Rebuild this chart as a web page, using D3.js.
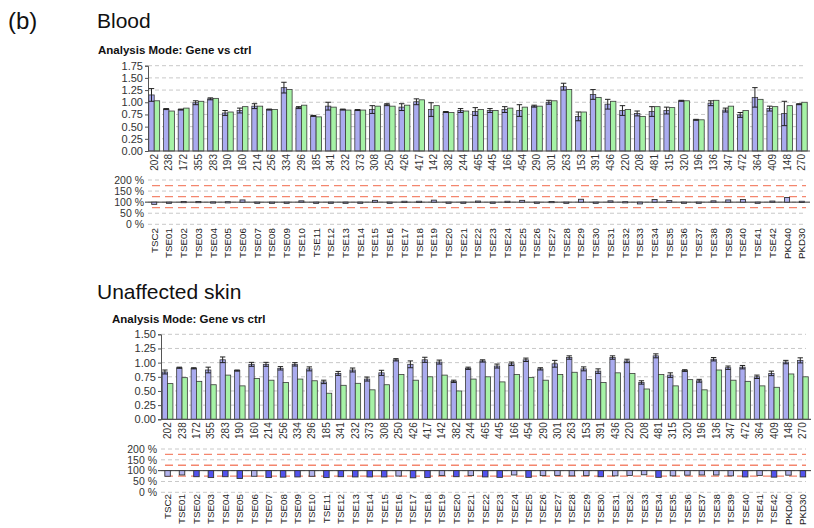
<!DOCTYPE html>
<html>
<head>
<meta charset="utf-8">
<script src="https://cdn.jsdelivr.net/npm/d3@7/dist/d3.min.js"></script>
<style>
  html, body { margin: 0; padding: 0; background: #fff; }
  svg { display: block; }
  text { font-family: "Liberation Sans", Arial, sans-serif; }
</style>
</head>
<body>
<svg id="chart" width="814" height="528"></svg>
<script>
// Gene IDs shown under each bar pair
const geneIds = ["202","238","172","355","283","190","160","214","256","334","296","185","341","232","373",
  "308","250","426","417","142","382","244","465","445","166","454","290","301","263","153",
  "391","436","220","208","481","315","320","196","136","347","472","364","409","148","270"];

// Sample names shown under the percentage strip
const sampleNames = ["TSC2","TSE01","TSE02","TSE03","TSE04","TSE05","TSE06","TSE07","TSE08","TSE09",
  "TSE10","TSE11","TSE12","TSE13","TSE14","TSE15","TSE16","TSE17","TSE18","TSE19","TSE20","TSE21",
  "TSE22","TSE23","TSE24","TSE25","TSE26","TSE27","TSE28","TSE29","TSE30","TSE31","TSE32","TSE33",
  "TSE34","TSE35","TSE36","TSE37","TSE38","TSE39","TSE40","TSE41","TSE42","PKD40","PKD30"];

// Blood: relative expression (blue = gene, green = ctrl), error half-widths, ratio %
const bloodBlue = [1.15,0.86,0.85,0.99,1.07,0.78,0.83,0.92,0.85,1.30,0.89,0.72,0.92,0.85,0.84,
  0.85,0.95,0.90,1.01,0.85,0.80,0.83,0.81,0.83,0.85,0.83,0.92,1.00,1.32,0.71,
  1.16,0.96,0.83,0.77,0.81,0.83,1.03,0.64,0.98,0.84,0.74,1.10,0.87,0.77,0.96];
const bloodBlueErr = [0.13,0.01,0.01,0.04,0.02,0.05,0.05,0.05,0.01,0.11,0.02,0.01,0.08,0.01,0.01,
  0.08,0.02,0.07,0.06,0.14,0.01,0.04,0.08,0.04,0.06,0.12,0.02,0.04,0.07,0.09,
  0.10,0.10,0.10,0.05,0.10,0.07,0.01,0.01,0.05,0.04,0.05,0.20,0.05,0.25,0.01];
const bloodGreen = [1.03,0.82,0.88,1.02,1.08,0.80,0.91,0.92,0.85,1.26,0.94,0.70,0.90,0.84,0.84,
  0.92,0.92,0.94,1.05,0.93,0.79,0.82,0.85,0.83,0.88,0.90,0.92,1.03,1.26,0.80,
  1.10,1.02,0.85,0.71,0.91,0.89,1.03,0.64,1.04,0.92,0.83,1.06,0.91,0.93,1.00];
const bloodRatio = [90,95,103,103,101,102,110,100,100,97,106,97,98,99,100,
  108,97,104,104,109,99,99,105,100,104,108,100,103,95,113,
  95,106,102,92,112,107,100,100,106,110,112,96,105,121,104];
const bloodStrong = new Array(45).fill(false);

// Unaffected skin
const skinBlue = [0.835,0.91,0.90,0.87,1.05,0.86,0.97,0.97,0.90,0.97,0.89,0.66,0.81,0.87,0.71,
  0.82,1.05,0.97,1.05,1.01,0.67,0.90,1.03,0.94,0.98,1.05,0.89,0.98,1.09,0.89,
  0.85,1.09,1.03,0.65,1.12,0.78,0.86,0.68,1.06,0.91,0.92,0.75,0.81,1.01,1.04];
const skinBlueErr = [0.035,0.01,0.01,0.05,0.05,0.01,0.035,0.035,0.03,0.03,0.035,0.03,0.035,0.035,0.035,
  0.045,0.02,0.06,0.045,0.035,0.02,0.02,0.02,0.035,0.03,0.03,0.02,0.06,0.03,0.035,
  0.04,0.03,0.03,0.03,0.035,0.04,0.015,0.025,0.03,0.03,0.03,0.03,0.04,0.03,0.045];
const skinGreen = [0.63,0.735,0.67,0.61,0.78,0.59,0.72,0.69,0.65,0.71,0.68,0.46,0.60,0.635,0.52,
  0.61,0.79,0.69,0.75,0.78,0.50,0.71,0.75,0.66,0.79,0.74,0.69,0.79,0.83,0.70,
  0.65,0.82,0.81,0.535,0.79,0.59,0.70,0.52,0.87,0.69,0.67,0.59,0.565,0.80,0.75];
const skinRatio = [74,80,72,68,72,64,74,68,70,71,74,68,72,71,71,
  71,75,67,68,78,72,77,71,69,80,69,77,78,76,77,
  72,76,78,81,69,76,79,80,80,76,71,78,70,79,71];
const skinStrong = [false,false,true,true,true,true,false,true,true,true,false,true,true,true,true,
  true,false,true,true,false,true,false,true,true,false,true,false,false,false,false,
  true,false,false,false,true,false,false,false,false,false,true,false,true,false,true];

const mainTicksBlood = [0,0.25,0.5,0.75,1.0,1.25,1.5,1.75];
const mainTicksSkin = [0,0.25,0.5,0.75,1.0,1.25,1.5];
const pctTicks = [0,50,100,150,200];
const pctLimits = [75,125,175];

const svg = d3.select("#chart");
const C = {
  blue: "#aaabef", green: "#a6f2a6", edge: "#3a3a3a",
  grid: "#c8c8c8", limit: "#f4866e", text: "#333",
  strong: "#5252ee", weak: "#b3b3ee"
};

// headings
svg.append("text").attr("x", 8).attr("y", 29).attr("font-family", "Open Sans").attr("font-size", 24)
  .attr("fill", "#111").text("(b)");
svg.append("text").attr("x", 97).attr("y", 28).attr("font-family", "Open Sans").attr("font-size", 21)
  .attr("fill", "#111").text("Blood");
svg.append("text").attr("x", 97).attr("y", 299).attr("font-family", "Open Sans").attr("font-size", 21)
  .attr("fill", "#111").text("Unaffected skin");

function drawPanel(cfg) {
  const g = svg.append("g");
  const n = geneIds.length;
  g.append("text").attr("x", cfg.titleX).attr("y", cfg.titleY).attr("font-size", 11.5)
    .attr("font-weight", "bold").attr("fill", "#111").text("Analysis Mode: Gene vs ctrl");

  const x = d3.scaleBand().domain(d3.range(n)).range(cfg.xRange).paddingInner(0.26).paddingOuter(0.12);
  const sub = d3.scaleBand().domain([0, 1]).range([0, x.bandwidth()]);
  const y = d3.scaleLinear().domain([0, cfg.yMax]).range(cfg.mainY);
  const gridR = cfg.gridRight;

  // main grid
  g.append("g").selectAll("line").data(cfg.mainTicks.filter(t => t > 0)).join("line")
    .attr("x1", cfg.axisX).attr("x2", gridR).attr("y1", d => y(d)).attr("y2", d => y(d))
    .attr("stroke", C.grid).attr("stroke-width", 1).attr("stroke-dasharray", "4,3");

  // y axis
  const ya = g.append("g").attr("transform", `translate(${cfg.axisX},0)`)
    .call(d3.axisLeft(y).tickValues(cfg.mainTicks).tickSize(3).tickPadding(2).tickFormat(d3.format(".2f")));
  ya.select(".domain").attr("stroke", "#555");
  ya.selectAll(".tick line").attr("stroke", "#555");
  ya.selectAll("text").attr("font-size", 11).attr("fill", C.text).attr("font-family", "Liberation Sans, Arial");

  // bars
  const bars = g.append("g");
  bars.selectAll("rect.b").data(d3.range(n)).join("rect").attr("class", "b")
    .attr("x", i => x(i) + sub(0)).attr("width", sub.bandwidth())
    .attr("y", i => y(cfg.blue[i])).attr("height", i => y(0) - y(cfg.blue[i]))
    .attr("fill", C.blue).attr("stroke", C.edge).attr("stroke-width", 0.8);
  bars.selectAll("rect.g").data(d3.range(n)).join("rect").attr("class", "g")
    .attr("x", i => x(i) + sub(1)).attr("width", sub.bandwidth())
    .attr("y", i => y(cfg.green[i])).attr("height", i => y(0) - y(cfg.green[i]))
    .attr("fill", C.green).attr("stroke", C.edge).attr("stroke-width", 0.8);

  // error bars on the gene bars
  const eb = g.append("g").attr("stroke", "#222").attr("stroke-width", 1);
  d3.range(n).forEach(i => {
    const cx = x(i) + sub(0) + sub.bandwidth() / 2;
    const hi = y(cfg.blue[i] + cfg.err[i]), lo = y(cfg.blue[i] - cfg.err[i]);
    const w = sub.bandwidth() / 2;
    eb.append("line").attr("x1", cx).attr("x2", cx).attr("y1", hi).attr("y2", lo);
    eb.append("line").attr("x1", cx - w).attr("x2", cx + w).attr("y1", hi).attr("y2", hi);
    eb.append("line").attr("x1", cx - w).attr("x2", cx + w).attr("y1", lo).attr("y2", lo);
  });

  // x axis line
  g.append("line").attr("x1", cfg.axisX).attr("x2", cfg.xRange[1] + 1).attr("y1", y(0)).attr("y2", y(0))
    .attr("stroke", "#555").attr("stroke-width", 1.2);

  // gene id labels
  g.append("g").selectAll("text").data(d3.range(n)).join("text")
    .attr("transform", i => `translate(${x(i) + x.bandwidth() / 2},${y(0) + 3}) rotate(-90)`)
    .attr("text-anchor", "end").attr("dy", "0.35em").attr("font-size", 10).attr("fill", C.text)
    .text(i => geneIds[i]);

  // percentage strip
  const p = d3.scaleLinear().domain([0, 200]).range(cfg.pctY);
  g.append("g").selectAll("line").data(pctTicks).join("line")
    .attr("x1", cfg.axisX).attr("x2", gridR).attr("y1", d => p(d)).attr("y2", d => p(d))
    .attr("stroke", C.grid).attr("stroke-width", 1).attr("stroke-dasharray", "4,3");
  g.append("g").selectAll("line").data(pctLimits).join("line")
    .attr("x1", cfg.axisX + 4).attr("x2", gridR).attr("y1", d => p(d)).attr("y2", d => p(d))
    .attr("stroke", C.limit).attr("stroke-width", 1.3).attr("stroke-dasharray", "8,5");
  g.append("line").attr("x1", cfg.axisX - 3).attr("x2", cfg.xRange[1] + 1).attr("y1", p(100)).attr("y2", p(100))
    .attr("stroke", "#333").attr("stroke-width", 1);
  g.append("g").selectAll("text").data(pctTicks).join("text")
    .attr("x", cfg.axisX - 4).attr("y", d => p(d)).attr("dy", "0.35em").attr("text-anchor", "end")
    .attr("font-size", 10.5).attr("fill", C.text).text(d => d + " %");

  const bw = cfg.boxW;
  g.append("g").selectAll("rect").data(d3.range(n)).join("rect")
    .attr("x", i => x(i) + x.bandwidth() / 2 - bw / 2).attr("width", bw)
    .attr("y", i => Math.min(p(100), p(cfg.ratio[i])))
    .attr("height", i => Math.max(1.2, Math.abs(p(cfg.ratio[i]) - p(100))))
    .attr("fill", i => cfg.strong[i] ? C.strong : C.weak)
    .attr("stroke", "#333").attr("stroke-width", 0.9);

  // sample labels
  g.append("g").selectAll("text").data(d3.range(n)).join("text")
    .attr("transform", i => `translate(${x(i) + x.bandwidth() / 2},${cfg.sampleTop}) rotate(-90)`)
    .attr("text-anchor", "end").attr("dy", "0.35em").attr("font-size", 9.8).attr("fill", "#222")
    .text(i => sampleNames[i]);
}

drawPanel({
  titleX: 98, titleY: 54, xRange: [147, 809], axisX: 148, gridRight: 806,
  yMax: 1.75, mainY: [151, 65.7], mainTicks: mainTicksBlood,
  pctY: [224.3, 180], boxW: 5, sampleTop: 228,
  blue: bloodBlue, err: bloodBlueErr, green: bloodGreen, ratio: bloodRatio, strong: bloodStrong
});

drawPanel({
  titleX: 112, titleY: 323, xRange: [160.5, 810], axisX: 161, gridRight: 806,
  yMax: 1.5, mainY: [419.3, 334.3], mainTicks: mainTicksSkin,
  pctY: [492.3, 449], boxW: 5.5, sampleTop: 494,
  blue: skinBlue, err: skinBlueErr, green: skinGreen, ratio: skinRatio, strong: skinStrong
});
</script>
</body>
</html>
